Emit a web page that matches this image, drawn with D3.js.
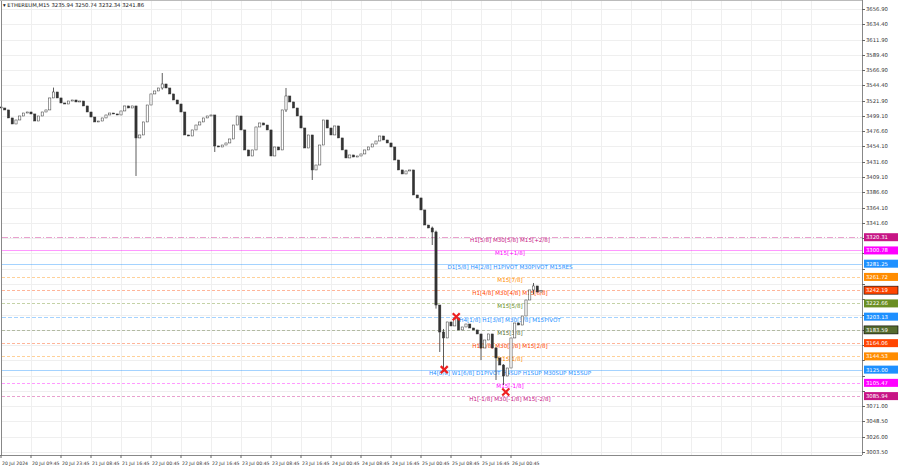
<!DOCTYPE html>
<html>
<head>
<meta charset="utf-8">
<script src="https://cdn.jsdelivr.net/npm/d3@7"></script>
<style>
body { margin: 0; background: #fff; }
svg text { font-family: "DejaVu Sans", sans-serif; }
</style>
</head>
<body>
<svg id="chart" width="900" height="468"></svg>
<script>
// hourly closes
var closes = [3510.9,3508.0,3496.2,3487.3,3493.2,3499.1,3503.5,3505.0,3502.1,3491.7,
  3499.1,3505.0,3508.0,3525.7,3534.5,3525.7,3518.3,3516.8,3521.2,3522.7,
  3519.8,3521.2,3513.9,3505.0,3497.6,3490.3,3491.7,3496.2,3500.6,3503.5,
  3502.1,3500.6,3506.5,3513.9,3510.9,3513.9,3466.7,3471.1,3490.3,3515.3,
  3531.6,3536.0,3540.4,3546.3,3540.4,3531.6,3522.7,3516.8,3505.0,3471.1,
  3469.6,3478.5,3485.8,3490.3,3496.2,3499.1,3500.6,3454.9,3453.4,3456.3,
  3459.3,3465.2,3485.8,3499.1,3478.5,3449.0,3440.1,3449.0,3482.9,3488.8,
  3485.8,3478.5,3440.1,3453.4,3449.0,3508.0,3528.6,3519.8,3510.9,3499.1,
  3481.4,3451.9,3471.1,3419.5,3426.8,3456.3,3493.2,3481.4,3471.1,3484.4,
  3466.7,3449.0,3437.2,3441.6,3438.6,3440.1,3443.1,3449.0,3453.4,3457.8,
  3462.2,3469.6,3463.7,3459.3,3453.4,3434.2,3419.5,3413.6,3418.0,3419.5,
  3382.6,3378.2,3360.5,3338.3,3333.9,3328.0,3220.3,3180.5,3171.7,3195.3,
  3189.4,3201.2,3183.5,3187.9,3192.3,3186.4,3183.5,3177.6,3156.9,3168.7,
  3177.6,3156.9,3142.2,3131.8,3115.6,3127.4,3171.7,3193.8,3190.8,3204.1,
  3227.7,3242.5,3248.4,3239.5,3241.86];
var firstOpen = 3512.4;
// wick extremes that stand out: index -> [high, low]
var wicks = {14:[3541,3528],36:[3500,3410.6],43:[3562.5,3538],57:[3498,3446],
  76:[3540.4,3505],83:[3452,3404.7],115:[3336,3308.8],116:[3330,3215],
  117:[3205,3151],118:[3185,3121.5],128:[3175,3139],132:[3158,3109.7],
  134:[3133,3102.3],142:[3252.8,3236]};

var timeLabels = ['20 Jul 2024','20 Jul 09:45','20 Jul 23:45','21 Jul 08:45','21 Jul 16:45',
  '22 Jul 00:45','22 Jul 08:45','22 Jul 16:45','23 Jul 00:45','23 Jul 08:45','23 Jul 16:45',
  '24 Jul 00:45','24 Jul 08:45','24 Jul 16:45','25 Jul 00:45','25 Jul 08:45','25 Jul 16:45',
  '26 Jul 00:45'];
var priceTicks = [3656.90,3634.40,3611.90,3589.40,3566.90,3544.40,3521.90,3499.10,3476.60,
  3454.10,3431.60,3409.10,3386.60,3364.10,3341.60,3319.10,3296.60,3273.80,3251.30,3228.80,
  3206.30,3183.80,3161.30,3138.80,3116.00,3093.50,3071.00,3048.50,3026.00,3003.50];

var levelPrices = [3320.31,3300.78,3281.25,3261.72,3242.19,3222.66,3203.13,3183.59,3164.06,3144.53,3125.00,3105.47,3085.94];
var levelTexts = ['H1[5/8] M30[5/8] M15[+2/8]','M15[+1/8]','D1[5/8] H4[2/8] H1PIVOT M30PIVOT M15RES',
  'M15[7/8]','H1[4/8] M30[4/8] M15[6/8]','M15[5/8]','H4[1/8] H1[3/8] M30[3/8] M15PIVOT',
  'M15[3/8]','H1[2/8] M30[2/8] M15[2/8]','M15[1/8]',
  'H4[0/8] W1[6/8] D1PIVOT H4SUP H1SUP M30SUP M15SUP','M15[-1/8]','H1[-1/8] M30[-1/8] M15[-2/8]'];
var levelColors = ['#c71585','#ff00ff','#1e90ff','#ff8c00','#ff4500','#6b8e23','#1e90ff',
  '#556b2f','#ff4500','#ff8c00','#1e90ff','#ff00ff','#c71585'];
var levelDash = ['6,2,1,2','','','3,2','3,2','3,2','4,2','3,2','3,2','3,2','','3,2','3,2'];
// touch markers: [bar index, price]
var crosses = [[121.4,3203.1],[118.2,3125.0],[134.6,3092]];

var svg = d3.select('#chart');
var plotRight = 862, plotBottom = 455;
var x = d3.scaleLinear().domain([0, 144]).range([1, 541]);
var y = d3.scaleLinear().domain([3003.5, 3656.9]).range([452, 9]);

// grid
var g = svg.append('g');
priceTicks.forEach(function(p) {
    g.append('line').attr('x1', 2).attr('x2', plotRight).attr('y1', Math.round(y(p)) + .5).attr('y2', Math.round(y(p)) + .5)
        .attr('stroke', '#efefef');
});
for (var k = 0; k < 28; k++) {
    var gx = Math.round(x(k * 8)) + .5;
    if (gx > plotRight) break;
    g.append('line').attr('x1', gx).attr('x2', gx).attr('y1', 0).attr('y2', plotBottom).attr('stroke', '#efefef');
}

// levels
levelPrices.forEach(function(p, i) {
    var ly = Math.round(y(p)) + .5;
    svg.append('line').attr('x1', 2).attr('x2', plotRight).attr('y1', ly).attr('y2', ly)
        .attr('stroke', levelColors[i]).attr('stroke-width', 1).attr('stroke-opacity', 0.4)
        .attr('stroke-dasharray', levelDash[i] || null);
    svg.append('text').attr('x', 510).attr('y', ly + 4)
        .attr('text-anchor', 'middle').attr('font-size', 5.6).attr('fill', levelColors[i])
        .text(levelTexts[i]);
});

// candles
var cw = 2.2;
var cg = svg.append('g');
closes.forEach(function(c, i) {
    var o = i == 0 ? firstOpen : closes[i - 1];
    var hi = Math.max(o, c), lo = Math.min(o, c);
    if (wicks[i]) { hi = Math.max(hi, wicks[i][0]); lo = Math.min(lo, wicks[i][1]); }
    var cx = x(i);
    cg.append('line').attr('x1', cx).attr('x2', cx).attr('y1', y(hi)).attr('y2', y(lo))
        .attr('stroke', '#333').attr('stroke-width', 0.8);
    cg.append('rect').attr('x', cx - cw / 2).attr('width', cw)
        .attr('y', y(Math.max(o, c))).attr('height', Math.max(0.8, Math.abs(y(o) - y(c))))
        .attr('fill', c >= o ? '#fff' : '#333').attr('stroke', '#333').attr('stroke-width', 0.5);
});

// crosses
crosses.forEach(function(d) {
    var cx = x(d[0]), cy = y(d[1]), s = 3.5;
    svg.append('path').attr('d', 'M' + (cx - s) + ',' + (cy - s) + 'L' + (cx + s) + ',' + (cy + s) +
        'M' + (cx + s) + ',' + (cy - s) + 'L' + (cx - s) + ',' + (cy + s))
        .attr('stroke', '#ee2020').attr('stroke-width', 2.2);
});

// frame
svg.append('line').attr('x1', 1.5).attr('x2', 1.5).attr('y1', 0).attr('y2', plotBottom).attr('stroke', '#888');
svg.append('line').attr('x1', plotRight + .5).attr('x2', plotRight + .5).attr('y1', 0).attr('y2', plotBottom).attr('stroke', '#888');
svg.append('line').attr('x1', 0).attr('x2', plotRight).attr('y1', plotBottom + .5).attr('y2', plotBottom + .5).attr('stroke', '#888');
svg.append('line').attr('x1', 0).attr('x2', plotRight).attr('y1', .5).attr('y2', .5).attr('stroke', '#bbb');

// price axis (ticks hidden where a level box sits)
priceTicks.forEach(function(p) {
    var ty = y(p);
    svg.append('line').attr('x1', plotRight).attr('x2', plotRight + 3).attr('y1', Math.round(ty) + .5).attr('y2', Math.round(ty) + .5).attr('stroke', '#666');
    var near = levelPrices.some(function(l) { return Math.abs(y(l) - ty) < 8; });
    if (near) return;
    svg.append('text').attr('x', 866).attr('y', ty + 2).attr('font-size', 5.3).attr('fill', '#333').text(p.toFixed(2));
});
levelPrices.forEach(function(p, i) {
    var ly = y(p);
    svg.append('rect').attr('x', 864).attr('y', ly - 4).attr('width', 34).attr('height', 8)
        .attr('fill', levelColors[i]).attr('stroke', i == 4 || i == 7 ? '#000' : 'none').attr('stroke-width', 0.6);
    svg.append('text').attr('x', 866).attr('y', ly + 2).attr('font-size', 5.3).attr('fill', '#fff').text(p.toFixed(2));
});

// time axis
timeLabels.forEach(function(t, k) {
    var tx = x(k * 8);
    svg.append('line').attr('x1', tx).attr('x2', tx).attr('y1', plotBottom).attr('y2', plotBottom + 3).attr('stroke', '#666');
    svg.append('text').attr('x', tx + 1).attr('y', 465).attr('font-size', 4.6).attr('fill', '#333').text(t);
});

// header
svg.append('text').attr('x', 3).attr('y', 7).attr('font-size', 5.3).attr('fill', '#111')
    .text('\u25BE ETHEREUM,M15  3235.94 3250.74 3232.34 3241.86');
</script>
</body>
</html>
